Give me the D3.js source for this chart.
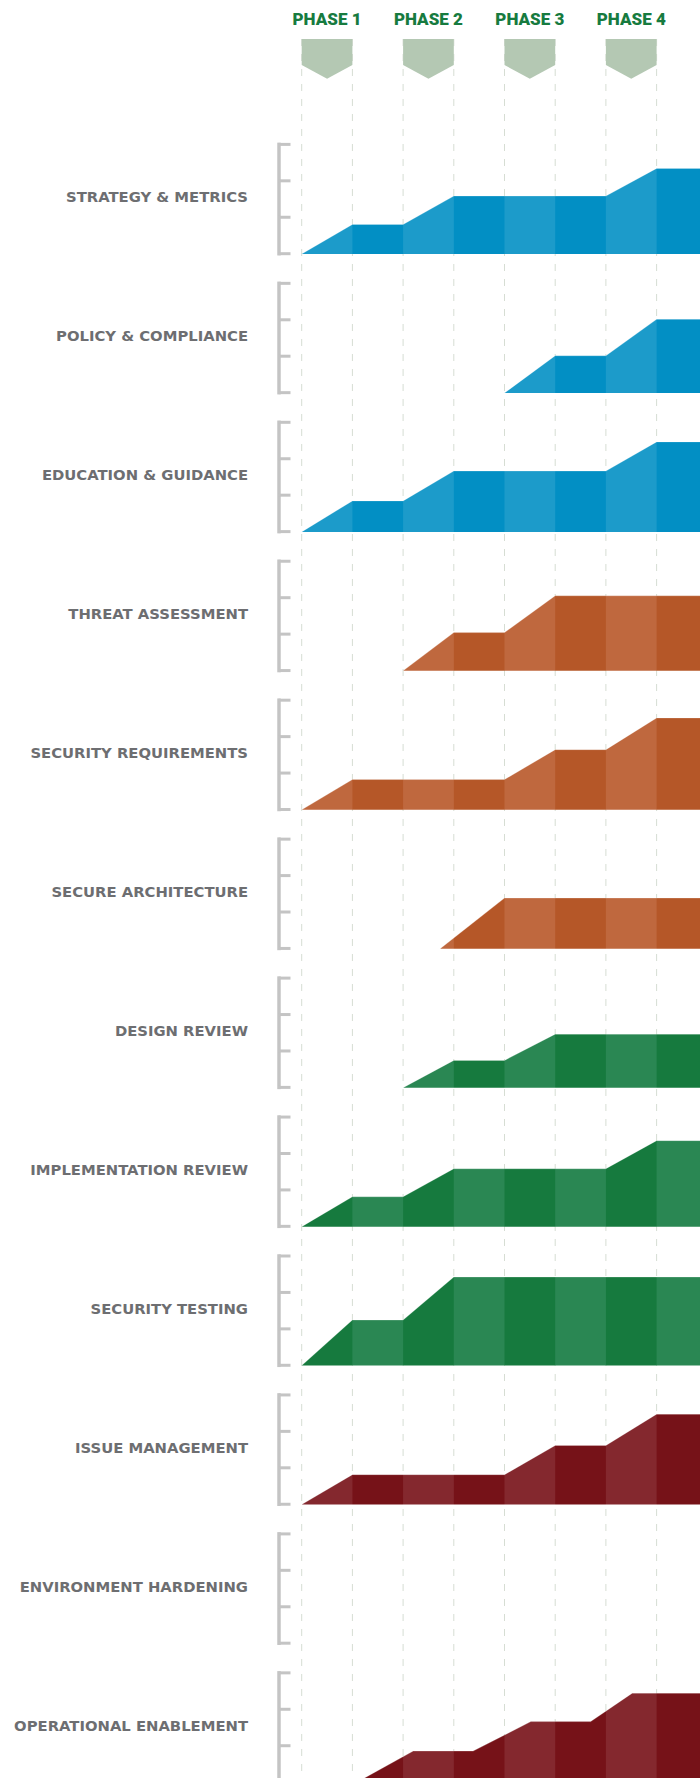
<!DOCTYPE html>
<html>
<head>
<meta charset="utf-8">
<script src="https://cdn.jsdelivr.net/npm/d3@7"></script>
<style>
body { margin: 0; background: #fff; }
svg { display: block; }
.practice-label { font-family: "DejaVu Sans", sans-serif; font-weight: 700; font-size: 14.8px; fill: #6d6e71; text-anchor: end; }
.phase-label { font-family: Roboto, sans-serif; font-weight: 900; font-size: 17px; fill: #177b3f; text-anchor: middle; }
.phase-marker { fill: #b4c8b3; }
.grid-line { stroke: #d6ddd3; stroke-width: 1; stroke-dasharray: 7 8; }
.bracket .domain { stroke: #c4c4c4; stroke-width: 3.5; stroke-linecap: square; fill: none; }
.bracket .tick line { stroke: #c4c4c4; stroke-width: 3; }
.bracket .tick text { display: none; }
.top-edge { fill: none; stroke: #fff; stroke-opacity: 0.22; stroke-width: 1; }
</style>
</head>
<body>
<div class="chart-wrapper"></div>
<script>
// phases sit on every other column of the grid
const phases = ['PHASE 1', 'PHASE 2', 'PHASE 3', 'PHASE 4']
const phaseColumn = [0, 2, 4, 6]

const practices = [
  'STRATEGY & METRICS',
  'POLICY & COMPLIANCE',
  'EDUCATION & GUIDANCE',
  'THREAT ASSESSMENT',
  'SECURITY REQUIREMENTS',
  'SECURE ARCHITECTURE',
  'DESIGN REVIEW',
  'IMPLEMENTATION REVIEW',
  'SECURITY TESTING',
  'ISSUE MANAGEMENT',
  'ENVIRONMENT HARDENING',
  'OPERATIONAL ENABLEMENT'
]

const businessFunction = [
  'governance', 'governance', 'governance',
  'construction', 'construction', 'construction',
  'verification', 'verification', 'verification',
  'deployment', 'deployment', 'deployment'
]

// practices whose column shading starts on the dark tone
const shiftedShading = ['IMPLEMENTATION REVIEW', 'SECURITY TESTING']

const levels = [0, 1, 2, 3]

// [grid column, maturity level]
const maturity = [
  [[0, 0], [1, 0.81], [2, 0.81], [3, 1.59], [6, 1.59], [7, 2.35], [8, 2.35]],
  [[4, 0], [5, 1.02], [6, 1.02], [7, 2.02], [8, 2.02]],
  [[0, 0], [1, 0.85], [2, 0.85], [3, 1.67], [6, 1.67], [7, 2.47], [8, 2.47]],
  [[2, 0], [3, 1.05], [4, 1.05], [5, 2.06], [8, 2.06]],
  [[0, 0], [1, 0.83], [4, 0.83], [5, 1.65], [6, 1.65], [7, 2.52], [8, 2.52]],
  [[2.73, 0], [4, 1.39], [8, 1.39]],
  [[2, 0], [3, 0.75], [4, 0.75], [5, 1.47], [8, 1.47]],
  [[0, 0], [1, 0.82], [2, 0.82], [3, 1.59], [6, 1.59], [7, 2.36], [8, 2.36]],
  [[0, 0], [1, 1.25], [2, 1.25], [3, 2.43], [8, 2.43]],
  [[0, 0], [1, 0.82], [4, 0.82], [5, 1.62], [6, 1.62], [7, 2.48], [8, 2.48]],
  [],
  [[1.08, 0], [2.2, 0.86], [3.38, 0.86], [4.52, 1.67], [5.70, 1.67], [6.52, 2.45], [8, 2.45]]
]

const palette = {
  governance:   { light: '#1c9bca', dark: '#028fc4' },
  construction: { light: '#bf683e', dark: '#b55728' },
  verification: { light: '#2a8753', dark: '#167a3e' },
  deployment:   { light: '#84282e', dark: '#761218' }
}

const width = 700
const height = 1778

const firstRow = 143.3
const rowStep = 138.95
const rowHeight = 110.7

let svg = d3.select('.chart-wrapper').append('svg')
.attr('width', width)
.attr('height', height)

let x = d3.scaleLinear()
.domain([0, 8])
.range([301.7, 707.3])

const colW = x(1) - x(0)

let y = d3.scaleLinear()
.domain([0, 3])
.range([rowHeight, rowHeight - 109.3])

let defs = svg.append('defs')

// striped fills: alternate columns lighter / darker
Object.keys(palette).forEach(group => {
  [false, true].forEach(shifted => {
    let pat = defs.append('pattern')
    .attr('id', 'stripe-' + group + (shifted ? '-s' : ''))
    .attr('patternUnits', 'userSpaceOnUse')
    .attr('x', x(0) + (shifted ? colW : 0))
    .attr('y', 0)
    .attr('width', colW * 2)
    .attr('height', height)

    pat.append('rect')
    .attr('width', colW).attr('height', height)
    .attr('fill', palette[group].light)

    pat.append('rect')
    .attr('x', colW)
    .attr('width', colW).attr('height', height)
    .attr('fill', palette[group].dark)
  })
})

// GRID

let gridGroup = svg.append('g')

gridGroup.selectAll('line')
.data(d3.range(8))
.enter()
.append('line')
.attr('class', 'grid-line')
.attr('x1', d => x(d))
.attr('x2', d => x(d))
.attr('y1', 39)
.attr('y2', height)

// PHASES

let phaseGroup = svg.append('g')

phases.forEach((p, i) => {
  let c = phaseColumn[i]
  let x0 = x(c), x1 = x(c + 1), xm = x(c + 0.5)

  phaseGroup.append('path')
  .attr('class', 'phase-marker')
  .attr('d', `M${x0},39 L${x1},39 L${x1},65 L${xm},78.7 L${x0},65 Z`)

  phaseGroup.append('text')
  .attr('class', 'phase-label')
  .attr('x', xm)
  .attr('y', 25)
  .text(p)
})

// ROWS

let area = d3.area()
.x(d => x(d[0]))
.y0(y(0))
.y1(d => y(d[1]))

let line = d3.line()
.x(d => x(d[0]))
.y(d => y(d[1]))

practices.forEach((name, i) => {
  let row = svg.append('g')
  .attr('class', 'practice')
  .attr('transform', 'translate(0,' + (firstRow + i * rowStep) + ')')

  row.append('text')
  .attr('class', 'practice-label')
  .attr('x', 248)
  .attr('y', 58.8)
  .text(name)

  row.append('g')
  .attr('class', 'bracket')
  .attr('transform', 'translate(278.5,-0.8)')
  .call(d3.axisRight(y).tickValues(levels).tickSizeInner(12).tickSizeOuter(0).tickFormat(''))

  let values = maturity[i]
  if (!values.length) return

  let group = businessFunction[i]
  let shifted = shiftedShading.includes(name)

  row.append('path')
  .datum(values)
  .attr('d', area)
  .attr('fill', 'url(#stripe-' + group + (shifted ? '-s' : '') + ')')

  row.append('path')
  .datum(values)
  .attr('class', 'top-edge')
  .attr('d', line)
})
</script>
</body>
</html>
